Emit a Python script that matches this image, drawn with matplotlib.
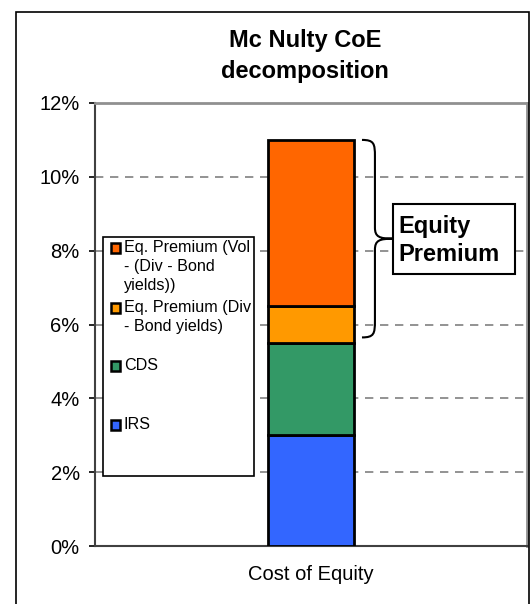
import matplotlib
matplotlib.use('Agg')
import matplotlib.pyplot as plt
from matplotlib.patches import Rectangle, PathPatch
from matplotlib.path import Path
import matplotlib.transforms as mtransforms
import numpy as np

plt.rcParams['font.family'] = ['Liberation Sans', 'DejaVu Sans']

# data (percent)
category = 'Cost of Equity'
series = ['IRS', 'CDS', 'Eq. Premium (Div - Bond yields)', 'Eq. Premium (Vol - (Div - Bond yields))']
values = [3.0, 2.5, 1.0, 4.5]
colors = ['#3366FF', '#339966', '#FF9900', '#FF6600']
legend_labels = ['Eq. Premium (Vol\n- (Div - Bond\nyields))', 'Eq. Premium (Div\n- Bond yields)', 'CDS', 'IRS']
yticks = [0, 2, 4, 6, 8, 10, 12]

fig = plt.figure(figsize=(5.31, 6.04), dpi=100)
ax = fig.add_axes([95 / 531, 1 - 546 / 604, 432 / 531, 443 / 604])

# outer chart frame
fig.patches.append(Rectangle((16 / 531, -0.05), 513 / 531, 1.05 - 12 / 604, transform=fig.transFigure,
                             fill=False, edgecolor='black', linewidth=1.2))

bottom = 0
for v, c in zip(values, colors):
    ax.bar(0, v, width=0.2, bottom=bottom, color=c, edgecolor='black', linewidth=2, zorder=3)
    bottom += v

ax.set_xlim(-0.5, 0.5)
ax.set_ylim(0, 12)
ax.set_yticks(yticks)
ax.set_yticklabels([f'{t}%' for t in yticks], fontsize=14.5)
ax.set_xticks([0])
ax.set_xticklabels([category], fontsize=14.5)
ax.tick_params(axis='x', length=0, pad=14)
ax.tick_params(axis='y', length=4, width=1.2, pad=7, colors='black')
for t in yticks[1:-1]:
    ax.axhline(t, color='#808080', linestyle=(0, (5, 4)), linewidth=1.2, zorder=1)

ax.spines['left'].set_color('#404040')
ax.spines['left'].set_linewidth(1.5)
ax.spines['bottom'].set_color('#404040')
ax.spines['bottom'].set_linewidth(1.5)
for s in ['top', 'right']:
    ax.spines[s].set_color('#909090')
    ax.spines[s].set_linewidth(2)

fig.text(305 / 531, 1 - 56 / 604, 'Mc Nulty CoE\ndecomposition', ha='center', va='center',
         fontsize=17, fontweight='bold', linespacing=1.4)

# manual legend box
ax.add_patch(Rectangle((0.0185, 0.158), 0.35, 0.54, transform=ax.transAxes, facecolor='white',
                       edgecolor='black', linewidth=1.2, zorder=4))
entry_y = [248, 308, 366, 425]
for lab, c, py in zip(legend_labels, colors[::-1], entry_y):
    yf = (546 - py) / 443
    ax.add_patch(Rectangle((0.038, yf - 0.0105), 0.021, 0.021, transform=ax.transAxes, facecolor=c,
                           edgecolor='black', linewidth=1.8, zorder=5))
    ax.text(0.067, yf + 0.017, lab, transform=ax.transAxes, fontsize=11.6, va='top', ha='left',
            linespacing=1.3, zorder=5)

# brace spanning the equity premium segments
top = sum(values)
low = values[0] + values[1] + 0.15
mid = (top + low) / 2
trans = mtransforms.blended_transform_factory(ax.transAxes, ax.transData)
x0, x1, xt = 0.618, 0.648, 0.690
verts = [(x0, top), (x1 - 0.002, top), (x1, top - 0.1), (x1, top - 0.45),
         (x1, mid + 0.3),
         (x1, mid + 0.05), (x1 + 0.01, mid), (xt, mid),
         (x1 + 0.01, mid), (x1, mid - 0.05), (x1, mid - 0.3),
         (x1, low + 0.45),
         (x1, low + 0.1), (x1 - 0.002, low), (x0, low)]
codes = [Path.MOVETO, Path.CURVE4, Path.CURVE4, Path.CURVE4,
         Path.LINETO,
         Path.CURVE4, Path.CURVE4, Path.CURVE4,
         Path.CURVE4, Path.CURVE4, Path.CURVE4,
         Path.LINETO,
         Path.CURVE4, Path.CURVE4, Path.CURVE4]
ax.add_patch(PathPatch(Path(verts, codes), transform=trans, fill=False, edgecolor='black',
                       linewidth=1.5, zorder=5))

# "Equity Premium" callout box
ax.add_patch(Rectangle((0.690, mid - 0.95), 0.282, 1.9, transform=trans, facecolor='white',
                       edgecolor='black', linewidth=1.5, zorder=6))
ax.text(0.703, mid - 0.05, 'Equity\nPremium', transform=trans, fontsize=17, fontweight='bold',
        va='center', ha='left', linespacing=1.3, zorder=7)

fig.savefig('out.png', dpi=100)
